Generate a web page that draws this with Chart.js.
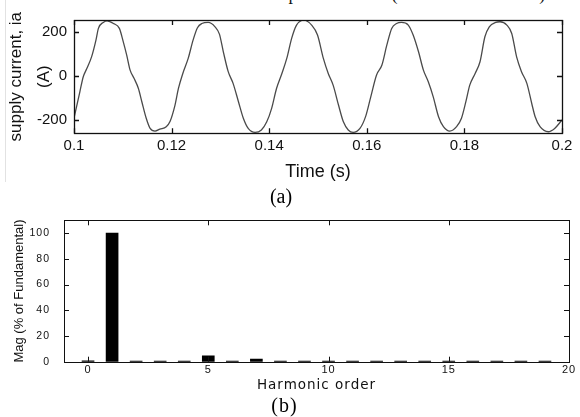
<!DOCTYPE html>
<html>
<head>
<meta charset="utf-8">
<script src="https://cdn.jsdelivr.net/npm/chart.js@4.4.1/dist/chart.umd.min.js"></script>
<style>
  html, body { margin: 0; padding: 0; background: #fff; width: 580px; height: 417px; overflow: hidden; }
  #wrapA { position: absolute; left: 0; top: 0; width: 580px; height: 210px; }
  #wrapB { position: absolute; left: 0; top: 200px; width: 580px; height: 225px; }
  #edge { position: absolute; left: 5px; top: 0; width: 1px; height: 182px; background: #e2e2e2; }
  #cut { position: absolute; left: 93px; top: -15.5px; font: 18px "Liberation Serif", "Times New Roman", serif; color: #111; white-space: nowrap; line-height: 18px; }
</style>
</head>
<body>
<div id="cut">Source current with uncompensated load (without active filter)</div>
<div id="edge"></div>
<div id="wrapA"><canvas id="chartA" width="580" height="210"></canvas></div>
<div id="wrapB"><canvas id="chartB" width="580" height="225"></canvas></div>
<script>
// ---------- data: (a) supply current waveform ----------
const timeS = [
  0.1000, 0.1012, 0.1019, 0.1026, 0.1036, 0.1045, 0.1050, 0.1060, 0.1068, 0.1081,
  0.1093, 0.1101, 0.1108, 0.1115, 0.1123, 0.1132, 0.1139, 0.1148, 0.1156, 0.1166,
  0.1176, 0.1189, 0.1197, 0.1207, 0.1214, 0.1223, 0.1234, 0.1244, 0.1253, 0.1262,
  0.1275, 0.1289, 0.1298, 0.1306, 0.1316, 0.1326, 0.1337, 0.1347, 0.1357, 0.1371,
  0.1384, 0.1395, 0.1405, 0.1415, 0.1426, 0.1436, 0.1446, 0.1456, 0.1471, 0.1487,
  0.1499, 0.1511, 0.1521, 0.1531, 0.1542, 0.1552, 0.1562, 0.1572, 0.1586, 0.1598,
  0.1608, 0.1620, 0.1631, 0.1641, 0.1651, 0.1661, 0.1671, 0.1685, 0.1695, 0.1706,
  0.1716, 0.1726, 0.1736, 0.1747, 0.1757, 0.1770, 0.1784, 0.1794, 0.1803, 0.1811,
  0.1822, 0.1832, 0.1842, 0.1851, 0.1864, 0.1873, 0.1887, 0.1897, 0.1907, 0.1917,
  0.1928, 0.1938, 0.1945, 0.1955, 0.1972, 0.1985, 0.2000
];
const currentA = [
  -190, -71, -3, 33, 87, 163, 216, 243, 250, 238,
  216, 155, 95, 27, -10, -56, -116, -191, -237, -249,
  -240, -229, -204, -131, -56, 12, 80, 163, 219, 238,
  243, 223, 190, 110, 20, -33, -116, -191, -237, -255,
  -244, -207, -146, -56, 12, 80, 171, 231, 253, 231,
  186, 80, 12, -41, -131, -207, -244, -255, -237, -180,
  -95, 5, 50, 140, 216, 238, 243, 231, 186, 110,
  27, -26, -93, -184, -229, -249, -229, -191, -116, -41,
  12, 65, 178, 223, 243, 246, 231, 193, 87, 20,
  -33, -124, -184, -229, -252, -237, -199
];
const timeTicks = [0.1, 0.12, 0.14, 0.16, 0.18, 0.2];
const currentTicks = [-200, 0, 200];

// ---------- data: (b) harmonic spectrum ----------
const harmonicOrder = [0, 1, 2, 3, 4, 5, 6, 7, 8, 9, 10, 11, 12, 13, 14, 15, 16, 17, 18, 19];
const magPct = [0.7, 100, 0.5, 0.5, 0.5, 4.5, 0.5, 2.0, 0.5, 0.5, 0.5, 0.5, 0.5, 0.5, 0.5, 0.5, 0.5, 0.5, 0.5, 0.5];
const orderTicks = [0, 5, 10, 15, 20];
const magTicks = [0, 20, 40, 60, 80, 100];

// ---------- plugins ----------
const framePlugin = {
  id: 'frame',
  afterDatasetsDraw(chart, args, opts) {
    const { ctx, chartArea: a, scales } = chart;
    const x = scales.x, y = scales.y;
    const L = opts.tick;
    const r = v => Math.round(v) + 0.5;
    ctx.save();
    ctx.strokeStyle = opts.color;
    ctx.lineWidth = opts.width;
    ctx.strokeRect(r(a.left), r(a.top), Math.round(a.right) - Math.round(a.left), Math.round(a.bottom) - Math.round(a.top));
    ctx.beginPath();
    x.ticks.forEach(t => {
      const px = r(x.getPixelForValue(t.value));
      ctx.moveTo(px, a.bottom); ctx.lineTo(px, a.bottom - L);
      ctx.moveTo(px, a.top); ctx.lineTo(px, a.top + L);
    });
    y.ticks.forEach(t => {
      const py = r(y.getPixelForValue(t.value));
      ctx.moveTo(a.left, py); ctx.lineTo(a.left + L, py);
      ctx.moveTo(a.right, py); ctx.lineTo(a.right - L, py);
    });
    ctx.stroke();
    ctx.restore();
  }
};
const spacingPlugin = {
  id: 'spacing',
  afterLayout(chart) {
    const s = chart.scales.y;
    if (s && !s._plainTitle) {
      const orig = s.drawTitle.bind(s);
      s.drawTitle = function () {
        const c = this.ctx; const prev = c.letterSpacing;
        c.letterSpacing = '0px'; orig(); c.letterSpacing = prev;
      };
      s._plainTitle = true;
    }
  },
  beforeDraw(chart, args, opts) { chart.ctx.letterSpacing = opts.value || '0px'; }
};

const noGrid = { display: false, drawTicks: false };
const noBorder = { display: false };

// ---------- chart (a) ----------
new Chart(document.getElementById('chartA'), {
  type: 'line',
  data: {
    datasets: [{
      data: timeS.map((t, i) => ({ x: t, y: currentA[i] })),
      borderColor: '#4a4a4a',
      borderWidth: 1.3,
      pointRadius: 0,
      fill: false,
      cubicInterpolationMode: 'monotone'
    }]
  },
  options: {
    responsive: false,
    animation: false,
    devicePixelRatio: 1,
    layout: { padding: { left: 0, right: 18, top: 20, bottom: 0 } },
    plugins: {
      legend: { display: false },
      tooltip: { enabled: false },
      title: {
        display: true, text: '(a)', position: 'bottom', color: '#000',
        padding: 0, font: { family: '"Liberation Serif", serif', size: 20, weight: 'normal', lineHeight: 1.2 }
      },
      frame: { color: '#111', width: 1.3, tick: 5 },
      spacing: { value: '0px' }
    },
    scales: {
      x: {
        type: 'linear', min: 0.1, max: 0.2,
        grid: noGrid, border: noBorder,
        afterBuildTicks: s => { s.ticks = timeTicks.map(v => ({ value: v })); },
        afterFit: s => { s.height = 52.7; },
        ticks: { padding: 4, color: '#111', maxRotation: 0, autoSkip: false,
          font: { family: '"Liberation Sans", Arial, sans-serif', size: 15 },
          callback: v => String(v) },
        title: { display: true, text: 'Time (s)', color: '#111', padding: { top: 0, bottom: 3 },
          font: { family: '"Liberation Sans", Arial, sans-serif', size: 18, lineHeight: 1.2 } }
      },
      y: {
        type: 'linear', min: -259, max: 254,
        grid: noGrid, border: noBorder,
        afterBuildTicks: s => { s.ticks = currentTicks.map(v => ({ value: v })); },
        afterFit: s => { s.width = 74; },
        ticks: { padding: 7, color: '#111', autoSkip: false,
          font: { family: '"Liberation Sans", Arial, sans-serif', size: 15 } },
        title: { display: true, text: ['supply current, ia', '(A)'], color: '#111', padding: { top: 2, bottom: 0 },
          font: { family: '"Liberation Sans", Arial, sans-serif', size: 17, lineHeight: 1.647 } }
      }
    }
  },
  plugins: [framePlugin, spacingPlugin]
});

// ---------- chart (b) ----------
new Chart(document.getElementById('chartB'), {
  type: 'bar',
  data: {
    datasets: [{
      data: harmonicOrder.map((h, i) => ({ x: h, y: magPct[i] })),
      backgroundColor: '#000',
      borderWidth: 0,
      barThickness: 12
    }]
  },
  options: {
    responsive: false,
    animation: false,
    devicePixelRatio: 1,
    layout: { padding: { left: 0, right: 11, top: 16, bottom: 6 } },
    plugins: {
      legend: { display: false },
      tooltip: { enabled: false },
      title: {
        display: true, text: '(b)', position: 'bottom', color: '#000',
        padding: 0, font: { family: '"Liberation Serif", serif', size: 20, weight: 'normal', lineHeight: 1.2 }
      },
      frame: { color: '#111', width: 1, tick: 5 },
      spacing: { value: '1px' }
    },
    scales: {
      x: {
        type: 'linear', min: -1, max: 20, offset: false,
        grid: noGrid, border: noBorder,
        afterBuildTicks: s => { s.ticks = orderTicks.map(v => ({ value: v })); },
        afterFit: s => { s.height = 33.3; },
        ticks: { padding: 2, color: '#111', maxRotation: 0, autoSkip: false,
          font: { family: '"Liberation Sans", Arial, sans-serif', size: 11 } },
        title: { display: true, text: 'Harmonic order', color: '#111', padding: { top: 0, bottom: 1 },
          font: { family: '"DejaVu Sans", sans-serif', size: 13.5, lineHeight: 1.2 } }
      },
      y: {
        type: 'linear', min: 0, max: 110,
        grid: noGrid, border: noBorder,
        afterBuildTicks: s => { s.ticks = magTicks.map(v => ({ value: v })); },
        afterFit: s => { s.width = 64; },
        ticks: { padding: 14, color: '#111', autoSkip: false,
          font: { family: '"Liberation Sans", Arial, sans-serif', size: 10.5 } },
        title: { display: true, text: 'Mag (% of Fundamental)', color: '#111', padding: { top: 11.2, bottom: 0 },
          font: { family: '"Liberation Sans", Arial, sans-serif', size: 13, lineHeight: 1.2 } }
      }
    }
  },
  plugins: [framePlugin, spacingPlugin]
});
</script>
</body>
</html>
